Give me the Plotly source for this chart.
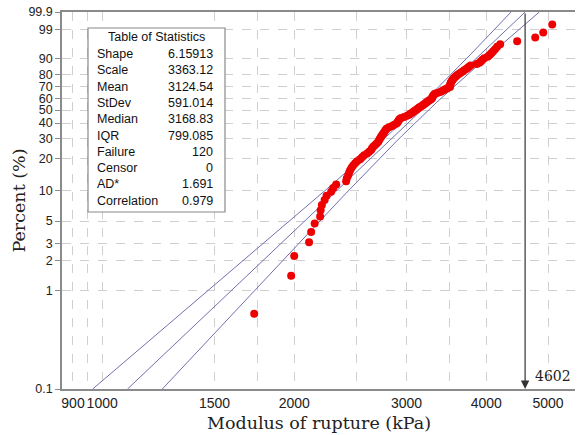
import numpy as np
import plotly.graph_objects as go

# ---- data (kPa), sorted ----
modulus = [
    1731, 1978, 2000, 2110, 2126, 2153, 2196, 2200, 2210, 2232,
    2248, 2285, 2302, 2327, 2412, 2418, 2429, 2438, 2447, 2460,
    2474, 2492, 2510, 2537, 2555, 2574, 2602, 2621, 2640, 2649,
    2662, 2678, 2693, 2707, 2715, 2723, 2732, 2740, 2749, 2759,
    2767, 2775, 2784, 2793, 2817, 2848, 2869, 2894, 2903, 2910,
    2918, 2926, 2942, 2974, 3006, 3028, 3042, 3061, 3078, 3094,
    3111, 3126, 3139, 3159, 3176, 3192, 3208, 3222, 3237, 3252,
    3269, 3284, 3290, 3296, 3302, 3312, 3322, 3350, 3387, 3409,
    3434, 3456, 3480, 3509, 3511, 3513, 3515, 3517, 3524, 3533,
    3540, 3549, 3561, 3575, 3589, 3608, 3627, 3651, 3672, 3693,
    3720, 3739, 3758, 3781, 3864, 3903, 3927, 3945, 3970, 4020,
    4049, 4074, 4101, 4129, 4160, 4206, 4472, 4773, 4913, 5075,
]

stat_labels = ["Shape", "Scale", "Mean", "StDev", "Median", "IQR",
               "Failure", "Censor", "AD*", "Correlation"]
stat_values = ["6.15913", "3363.12", "3124.54", "591.014", "3168.83",
               "799.085", "120", "0", "1.691", "0.979"]

shape_beta = 6.15913
scale_eta = 3363.12
conf_z = 1.645  # 90% bands

y_tick_pct = [0.1, 1, 2, 3, 5, 10, 20, 30, 40, 50, 60, 70, 80, 90, 99, 99.9]
y_tick_text = ["0.1", "1", "2", "3", "5", "10", "20", "30", "40", "50",
               "60", "70", "80", "90", "99", "99.9"]
x_tick_vals = [900, 1000, 1500, 2000, 3000, 4000, 5000]
x_tick_text = ["900", "1000", "1500", "2000", "3000", "4000", "5000"]
x_minor_grid = [950, 1750, 2500, 3500]
arrow_value = 4602


def weib(p):
    p = np.asarray(p, dtype=float)
    return np.log(-np.log(1.0 - p))


n = len(modulus)
ranks = np.arange(1, n + 1)
pct = (ranks - 0.3) / (n + 0.4)          # median ranks
y_pts = weib(pct)

w_min = float(weib(0.001))
w_max = float(weib(0.999))

# fitted Weibull line and approximate confidence bands
w_line = np.linspace(w_min, w_max, 80)
b = 1.0 / shape_beta
lnx = np.log(scale_eta) + w_line * b
var = (b ** 2 / n) * (1.1087 + 0.6079 * w_line ** 2 + 2 * 0.2570 * w_line)
sd = np.sqrt(var)
fit_x = np.exp(lnx)
lo_x = np.exp(lnx - conf_z * sd)
hi_x = np.exp(lnx + conf_z * sd)

line_col = "rgb(112,112,175)"
fig = go.Figure()
for xs in (lo_x, fit_x, hi_x):
    fig.add_trace(go.Scatter(x=xs, y=w_line, mode="lines",
                             line=dict(color=line_col, width=1),
                             hoverinfo="skip", showlegend=False))
fig.add_trace(go.Scatter(x=modulus, y=y_pts, mode="markers",
                         marker=dict(color="#ee0000", size=8),
                         showlegend=False))

grid_col = "#cfcfcf"
axis_col = "#8a8a8a"
x_tick_font = dict(family="Liberation Sans, Arial, sans-serif", size=14, color="#222")
y_tick_font = dict(family="Liberation Sans, Arial, sans-serif", size=12.5, color="#222")

fig.update_layout(
    width=578, height=435,
    margin=dict(l=62, r=3, t=12, b=46),
    paper_bgcolor="white", plot_bgcolor="white",
    xaxis=dict(
        type="log",
        range=[np.log10(865), np.log10(5510)],
        tickmode="array", tickvals=x_tick_vals, ticktext=x_tick_text,
        tickangle=0,
        showgrid=True, gridcolor=grid_col, griddash="dash", gridwidth=1,
        minor=dict(tickmode="array", tickvals=x_minor_grid, showgrid=True,
                   gridcolor=grid_col, griddash="dash", gridwidth=1, ticks=""),
        showline=True, linecolor=axis_col, linewidth=1.5, mirror=True,
        ticks="", tickfont=x_tick_font, zeroline=False,
    ),
    yaxis=dict(
        range=[w_min, w_max],
        tickmode="array", tickvals=list(weib(np.array(y_tick_pct) / 100.0)),
        ticktext=y_tick_text, tickangle=0,
        showgrid=True, gridcolor=grid_col, griddash="dash", gridwidth=1,
        showline=True, linecolor=axis_col, linewidth=1.5,
        ticks="outside", ticklen=5, tickcolor=axis_col,
        tickfont=y_tick_font, zeroline=False,
    ),
)

serif = "DejaVu Serif, Liberation Serif, serif"
plot_h = 435 - 12 - 46
plot_w = 578 - 62 - 3


def px_x(px):
    return (px - 62) / plot_w


def px_y(py):
    return (435 - 46 - py) / plot_h


# axis titles
fig.add_annotation(text="Modulus of rupture (kPa)", xref="paper", yref="paper",
                   x=0.5, y=px_y(423), showarrow=False, xanchor="center",
                   yanchor="middle", font=dict(family=serif, size=17.5, color="#222"))
fig.add_annotation(text="Percent (%)", xref="paper", yref="paper",
                   x=px_x(18), y=0.5, showarrow=False, textangle=-90,
                   xanchor="center", yanchor="middle",
                   font=dict(family=serif, size=17.5, color="#222"))

# arrow at the 99.9% crossing of the fitted line
fig.add_annotation(x=np.log10(arrow_value), y=w_min, xref="x", yref="y",
                   ax=np.log10(arrow_value), ay=w_max, axref="x", ayref="y",
                   text="", showarrow=True, arrowhead=2, arrowsize=1.4,
                   arrowwidth=1.2, arrowcolor="#333", standoff=0)
fig.add_annotation(x=np.log10(arrow_value), y=w_min, xref="x", yref="y",
                   text=str(arrow_value), showarrow=False, xanchor="left",
                   yanchor="bottom", xshift=8, yshift=3,
                   font=dict(family=serif, size=14, color="#222"))

# statistics table
fig.add_shape(type="rect", xref="paper", yref="paper",
              x0=px_x(88), x1=px_x(225), y0=px_y(212), y1=px_y(28),
              fillcolor="white", line=dict(color=axis_col, width=1.2),
              layer="above")
tfont = dict(family="Liberation Sans, Arial, sans-serif", size=12.5, color="#111")
fig.add_annotation(text="Table of Statistics", xref="paper", yref="paper",
                   x=px_x(156), y=px_y(37), showarrow=False,
                   xanchor="center", yanchor="middle", font=tfont)
for k, (lab, val) in enumerate(zip(stat_labels, stat_values)):
    yy = px_y(54 + 16.3 * k)
    fig.add_annotation(text=lab, xref="paper", yref="paper", x=px_x(95), y=yy,
                       showarrow=False, xanchor="left", yanchor="middle", font=tfont)
    fig.add_annotation(text=val, xref="paper", yref="paper", x=px_x(215), y=yy,
                       showarrow=False, xanchor="right", yanchor="middle", font=tfont)

fig.write_html("out.html")
